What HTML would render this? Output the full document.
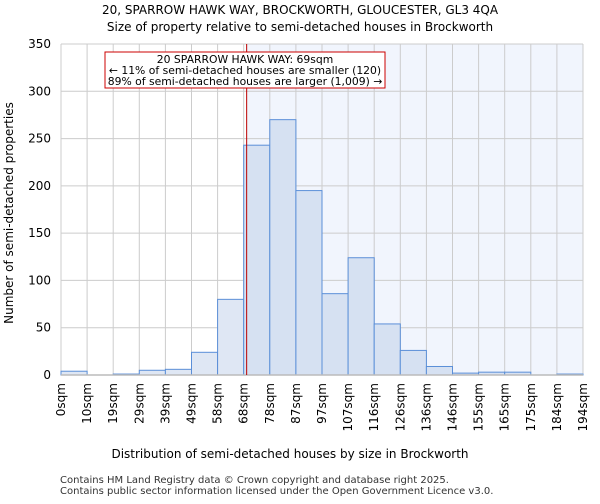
<!DOCTYPE html>
<html><head><meta charset="utf-8"><style>
body{margin:0;background:#fff;font-family:"DejaVu Sans","Liberation Sans",sans-serif;}
svg text{font-family:"DejaVu Sans","Liberation Sans",sans-serif;}
</style></head><body>
<svg id="c" width="600" height="500" xmlns="http://www.w3.org/2000/svg">
<text x="300" y="14" text-anchor="middle" font-size="12">20, SPARROW HAWK WAY, BROCKWORTH, GLOUCESTER, GL3 4QA</text>
<text x="300" y="31" text-anchor="middle" font-size="12">Size of property relative to semi-detached houses in Brockworth</text>
<g id="plot"></g>
<text x="290" y="458" text-anchor="middle" font-size="12">Distribution of semi-detached houses by size in Brockworth</text>
<text transform="translate(13,213) rotate(-90)" text-anchor="middle" font-size="12">Number of semi-detached properties</text>
<text x="60" y="483" font-size="10" fill="#333">Contains HM Land Registry data © Crown copyright and database right 2025.</text>
<text x="60" y="494" font-size="10" fill="#333">Contains public sector information licensed under the Open Government Licence v3.0.</text>
</svg>
<script>
const binLabels=["0sqm","10sqm","19sqm","29sqm","39sqm","49sqm","58sqm","68sqm","78sqm","87sqm","97sqm","107sqm","116sqm","126sqm","136sqm","146sqm","155sqm","165sqm","175sqm","184sqm","194sqm"];
const counts=[4,0,1,5,6,24,80,243,270,195,86,124,54,26,9,2,3,3,0,1];
const yTicks=[0,50,100,150,200,250,300,350];
const propertySize=69;
const binStart=0, binStep=9.7;
const NS="http://www.w3.org/2000/svg";
const X0=61,X1=583,Y0=375,Y1=44,yMax=350;
const bw=(X1-X0)/counts.length;
const xs=v=>X0+(v-binStart)/binStep*bw;
const ys=v=>Y0-(v/yMax)*(Y0-Y1);
const g=document.getElementById('plot');
function mk(t,a){const e=document.createElementNS(NS,t);for(const k in a)e.setAttribute(k,a[k]);g.appendChild(e);return e;}
const px=xs(propertySize);
let e=mk('rect',{x:px,y:Y1,width:X1-px,height:Y0-Y1,fill:'#f1f5fd'});


for(let i=0;i<binLabels.length;i++){
  e=mk('line',{x1:X0+i*bw,x2:X0+i*bw,y1:Y1,y2:Y0,stroke:'#ccc','stroke-width':1});
  
  
}
yTicks.forEach(t=>{
  e=mk('line',{x1:X0,x2:X1,y1:ys(t),y2:ys(t),stroke:'#ccc','stroke-width':1});
  
  
  e=mk('text',{x:X0-10,y:ys(t)+4,'text-anchor':'end','font-size':12});
  e.textContent=t;
  
  
});
counts.forEach((c,i)=>{
  const x=X0+i*bw;
  e=mk('rect',{x:x,y:ys(c),width:bw,height:Y0-ys(c),fill:(x+bw/2>px?'#d6e1f2':'#dfe7f4'),stroke:'#5b8fd8','stroke-width':1});
  
  
});
e=mk('line',{x1:X0,x2:X1,y1:Y0,y2:Y0,stroke:'#bbb','stroke-width':1.5});


binLabels.forEach((l,i)=>{
  const x=X0+i*bw;
  e=mk('text',{transform:`translate(${x+4},${Y0+8}) rotate(-90)`,'text-anchor':'end','font-size':12});
  e.textContent=l;
  
  
});
e=mk('line',{x1:px,x2:px,y1:Y1,y2:Y0,stroke:'#b00','stroke-width':1});


e=mk('rect',{x:105,y:52,width:280,height:36,fill:'#fff',stroke:'#c00','stroke-width':1});


["20 SPARROW HAWK WAY: 69sqm","← 11% of semi-detached houses are smaller (120)","89% of semi-detached houses are larger (1,009) →"].forEach((t,i)=>{
  e=mk('text',{x:245,y:63+i*11,'text-anchor':'middle','font-size':10.8});
  e.textContent=t;
  
  
});
</script>
</body></html>
